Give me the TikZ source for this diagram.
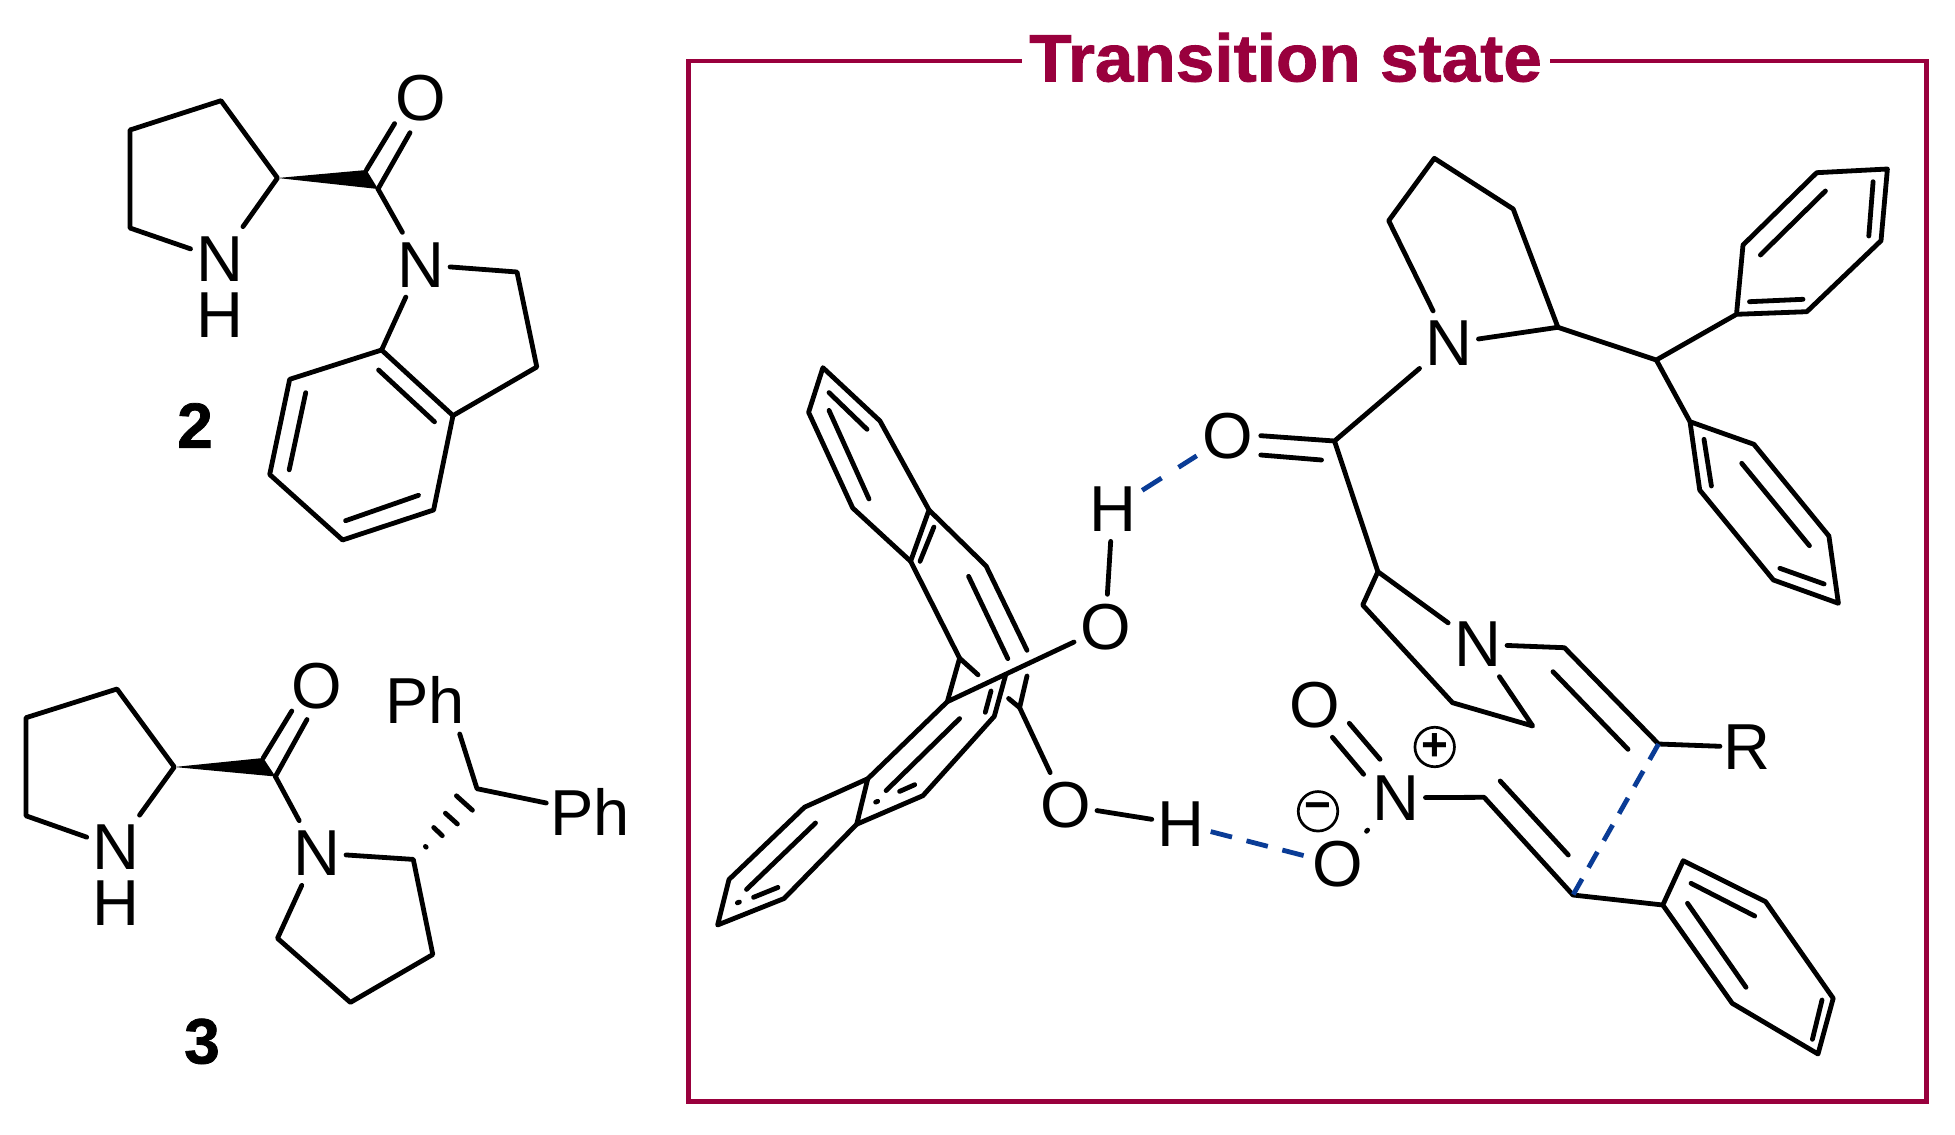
\documentclass[tikz,border=0pt]{standalone}
\usepackage{fontspec}
\setmainfont{Liberation Sans}
\newfontfamily\headfont{Liberation Sans Bold}[FakeBold=1.2]
\definecolor{framered}{RGB}{153,0,61}
\definecolor{hbondblue}{RGB}{10,60,150}
\tikzset{
  bond/.style={line width=4.8pt,line cap=round,line join=round},
  hbond/.style={line width=4.8pt,color=hbondblue,dash pattern=on 22pt off 15pt},
  atom/.style={font=\fontsize{65}{70}\selectfont,inner xsep=6pt,inner ysep=10pt,outer sep=0pt},
  cpdlabel/.style={font=\fontsize{64}{70}\headfont,inner sep=0pt},
  charge/.style={circle,draw,line width=2.7pt,minimum size=39.5pt,inner sep=0pt,font=\fontsize{46}{46}\selectfont\bfseries},
}
\begin{document}
\begin{tikzpicture}[x=1pt,y=-1pt]
\useasboundingbox (0,0) rectangle (1955,1135);

\node[atom] (bN1) at (220,259) {N};
\node[atom] (bH1) at (220,315.6) {H};
\node[atom] (bO1) at (420.6,98) {O};
\node[atom] (bN2) at (420.6,264.7) {N};
\node[cpdlabel] (bnum) at (195,425.5) {2};
\coordinate (b1) at (277.5,178);
\coordinate (b2) at (221,100.7);
\coordinate (b3) at (130,130);
\coordinate (b4) at (130,228);
\coordinate (b5) at (378,189);
\coordinate (b6) at (366.4,170);
\coordinate (b7) at (410,132.7);
\coordinate (b8) at (394.6,123.6);
\coordinate (b9) at (517,272);
\coordinate (b10) at (536.8,367);
\coordinate (b11) at (453,415.6);
\coordinate (b12) at (381.6,350);
\coordinate (b13) at (433.6,510);
\coordinate (b14) at (342.6,540);
\coordinate (b15) at (269.7,474.5);
\coordinate (b16) at (289.7,379.3);
\coordinate (b17) at (378.6,370);
\coordinate (b18) at (434.5,421.8);
\coordinate (b19) at (345.6,520.7);
\coordinate (b20) at (418.5,495.3);
\coordinate (b21) at (289.2,469.8);
\coordinate (b22) at (305.7,392.7);
\draw[bond] (bN1) -- (b1) -- (b2) -- (b3) -- (b4) -- (bN1);
\fill (b1) -- (b5) -- (b6) -- cycle;
\draw[bond] (b5) -- (b7);
\draw[bond] (b6) -- (b8);
\draw[bond] (b5) -- (bN2);
\draw[bond] (bN2) -- (b9) -- (b10) -- (b11) -- (b12) -- (bN2);
\draw[bond] (b11) -- (b13) -- (b14) -- (b15) -- (b16) -- (b12);
\draw[bond] (b17) -- (b18);
\draw[bond] (b19) -- (b20);
\draw[bond] (b21) -- (b22);

\node[atom] (cN1) at (116.2,847.5) {N};
\node[atom] (cH1) at (116.2,903.3) {H};
\node[atom] (cO1) at (316.6,686) {O};
\node[atom] (cN2) at (316.6,853) {N};
\node[atom,inner ysep=8pt] (cPh1) at (425,699.7) {Ph};
\node[atom,inner xsep=4pt,inner ysep=8pt] (cPh2) at (590,812) {Ph};
\node[cpdlabel] (cnum) at (202,1041.4) {3};
\coordinate (c1) at (174.3,767);
\coordinate (c2) at (117,689);
\coordinate (c3) at (26,717.7);
\coordinate (c4) at (26,815.8);
\coordinate (c5) at (275.4,776.5);
\coordinate (c6) at (263.2,758);
\coordinate (c7) at (307,719.5);
\coordinate (c8) at (291.8,711);
\coordinate (c9) at (413.3,859.4);
\coordinate (c10) at (432.8,954.5);
\coordinate (c11) at (350.4,1002.4);
\coordinate (c12) at (277.5,938.3);
\coordinate (c13) at (477,788.7);
\coordinate (c14) at (459.7,734);
\draw[bond] (cN1) -- (c1) -- (c2) -- (c3) -- (c4) -- (cN1);
\fill (c1) -- (c5) -- (c6) -- cycle;
\draw[bond] (c5) -- (c7);
\draw[bond] (c6) -- (c8);
\draw[bond] (c5) -- (cN2);
\draw[bond] (cN2) -- (c9) -- (c10) -- (c11) -- (c12) -- (cN2);
\draw[bond] (c14) -- (c13) -- (cPh2);
\foreach \cx/\cy/\dx/\dy in {425.8/846.8/0.4/0.4,438/831.6/4.3/4.1,451.4/818.6/6/5.4,464.4/803/8/7.2}
  \draw[bond] (\cx-\dx,\cy-\dy) -- (\cx+\dx,\cy+\dy);

\draw[line width=4.7pt,framered] (688.6,61) rectangle (1926.5,1101.3);
\node[font=\fontsize{67}{70}\headfont,text=framered,fill=white,inner sep=0pt,minimum width=528pt,minimum height=56pt] (title) at (1285.6,57.5) {\scalebox{1.035}[1]{Transition state}};

\node[atom] (tO1) at (1105.3,627.3) {O};
\node[atom] (tH1) at (1112.7,509) {H};
\node[atom] (tO2) at (1228,436) {O};
\node[atom] (tO3) at (1065.7,805.6) {O};
\node[atom] (tH2) at (1181.2,824) {H};
\node[atom] (tN1) at (1449,343.3) {N};
\node[atom] (tN2) at (1477.6,644.3) {N};
\node[atom] (tN3) at (1396,797.7) {N};
\node[atom] (tO4) at (1314.6,705) {O};
\node[atom] (tO5) at (1337.6,864.3) {O};
\node[atom,inner xsep=4pt] (tR) at (1747.4,747.3) {R};
\node[charge] (tplus) at (1434.7,747) {+};
\node[charge] (tminus) at (1318,811.3) {−};

\coordinate (a1) at (822.9,367.7);
\coordinate (a2) at (808.6,412.3);
\coordinate (a3) at (852.7,508);
\coordinate (a4) at (910.6,561.3);
\coordinate (a5) at (929,510);
\coordinate (a6) at (880,421);
\coordinate (a7) at (986.1,566);
\coordinate (a8) at (1027,650.3);
\coordinate (a9) at (959.6,658.2);
\coordinate (a10) at (978,674.8);
\coordinate (a11) at (947.3,701.7);
\coordinate (a12) at (1005.7,674.8);
\coordinate (a13) at (994.3,716.3);
\coordinate (a14) at (922.9,795.7);
\coordinate (a15) at (856.7,824.2);
\coordinate (a16) at (867.8,778.7);
\coordinate (a17) at (804.5,807.2);
\coordinate (a18) at (729,879.5);
\coordinate (a19) at (717.6,925);
\coordinate (a20) at (784.1,898.5);
\coordinate (a21) at (1019.6,707.6);
\coordinate (a22) at (1027,676);
\coordinate (a23) at (1008.6,698.5);
\draw[bond] (a1) -- (a2) -- (a3) -- (a4) -- (a5) -- (a6) -- cycle;
\draw[bond] (a5) -- (a7) -- (a8);
\draw[bond] (a4) -- (a9) -- (a10);
\draw[bond] (a9) -- (a11) -- (a16) -- (a15) -- (a14) -- (a13) -- (a12);
\draw[bond] (a11) -- (tO1);
\draw[bond] (a16) -- (a17) -- (a18) -- (a19) -- (a20) -- (a15);
\draw[bond] (a22) -- (a21) -- (a23);
\draw[bond] (a21) -- (tO3);
\draw[bond] (tO1) -- (tH1);
\draw[bond] (tO3) -- (tH2);
\foreach \px/\py/\qx/\qy in {829/392.6/867/429.3,829/410.4/869/499,920/561.3/933.9/527,968.6/576.4/1007.8/658.6,985.3/712.3/991/691,959.6/718.6/886.1/790.6,914.7/784.7/899.6/791.4,815.5/823/746.5/889.4,778/887.4/753.5/897.3,875.7/802.1/877.7/801.3,737.4/902.8/739.4/902}
  \draw[bond] (\px,\py) -- (\qx,\qy);

\coordinate (d1) at (1334.5,441);
\coordinate (d2) at (1260.8,435.7);
\coordinate (d3) at (1260.8,455);
\coordinate (d4) at (1321.5,460);
\coordinate (d5) at (1388.7,220.7);
\coordinate (d6) at (1434.3,158.3);
\coordinate (d7) at (1513.2,209);
\coordinate (d8) at (1557.9,327.3);
\coordinate (d9) at (1656.3,360);
\coordinate (d10) at (1736.5,314.3);
\coordinate (d11) at (1743,245);
\coordinate (d12) at (1816.7,172.7);
\coordinate (d13) at (1887.4,169);
\coordinate (d14) at (1881,240.7);
\coordinate (d15) at (1806.8,311.7);
\coordinate (d16) at (1690,421.7);
\coordinate (d17) at (1753.9,444.3);
\coordinate (d18) at (1828.9,536);
\coordinate (d19) at (1838.4,603.3);
\coordinate (d20) at (1773.4,580);
\coordinate (d21) at (1699.7,490);
\coordinate (d22) at (1377.9,571.7);
\coordinate (d23) at (1362.7,605);
\coordinate (d24) at (1452.5,702.7);
\coordinate (d25) at (1532.7,726);
\coordinate (d26) at (1564.4,647.7);
\coordinate (d27) at (1658.5,744);
\coordinate (d28) at (1573,895);
\coordinate (d29) at (1484.1,797.3);
\coordinate (d30) at (1662.8,905);
\coordinate (d31) at (1683.2,860.7);
\coordinate (d32) at (1765.6,901.7);
\coordinate (d33) at (1833.2,998.3);
\coordinate (d34) at (1818,1054);
\coordinate (d35) at (1732.2,1003.3);
\draw[bond] (d2) -- (d1) -- (tN1);
\draw[bond] (d3) -- (d4);
\draw[bond] (tN1) -- (d5) -- (d6) -- (d7) -- (d8) -- (tN1);
\draw[bond] (d8) -- (d9) -- (d10) -- (d11) -- (d12) -- (d13) -- (d14) -- (d15) -- (d10);
\draw[bond] (d9) -- (d16) -- (d17) -- (d18) -- (d19) -- (d20) -- (d21) -- (d16);
\draw[bond] (d1) -- (d22) -- (tN2);
\draw[bond] (d22) -- (d23) -- (d24) -- (d25) -- (tN2);
\draw[bond] (tN2) -- (d26) -- (d27) -- (tR);
\draw[bond] (tN3) -- (d29) -- (d28) -- (d30) -- (d31) -- (d32) -- (d33) -- (d34) -- (d35) -- (d30);
\draw[bond] (tN3) -- (tO5);
\foreach \px/\py/\qx/\qy in {1380/759.3/1349.3/723.3,1363.6/774.3/1332.4/737.3,1749.5/301.7/1803/299.3,1760.4/255/1825.4/191,1873.1/181.7/1868.8/236,1704/439.3/1711.4/486,1741.7/463.3/1809.4/545.7,1779.9/568.3/1824.1/584,1553/671.7/1628/749.3,1500.2/781/1568.3/855,1691/883.3/1754.7/916,1687.5/903.3/1746/987.3,1822/1000/1812.4/1039.3}
  \draw[bond] (\px,\py) -- (\qx,\qy);

\draw[hbond,dash pattern=on 23pt off 20pt] (tH1) -- (tO2);
\draw[hbond] (tH2) -- (tO5);
\draw[hbond,dash pattern=on 18pt off 13pt] (d27) -- (d28);
\end{tikzpicture}
\end{document}
